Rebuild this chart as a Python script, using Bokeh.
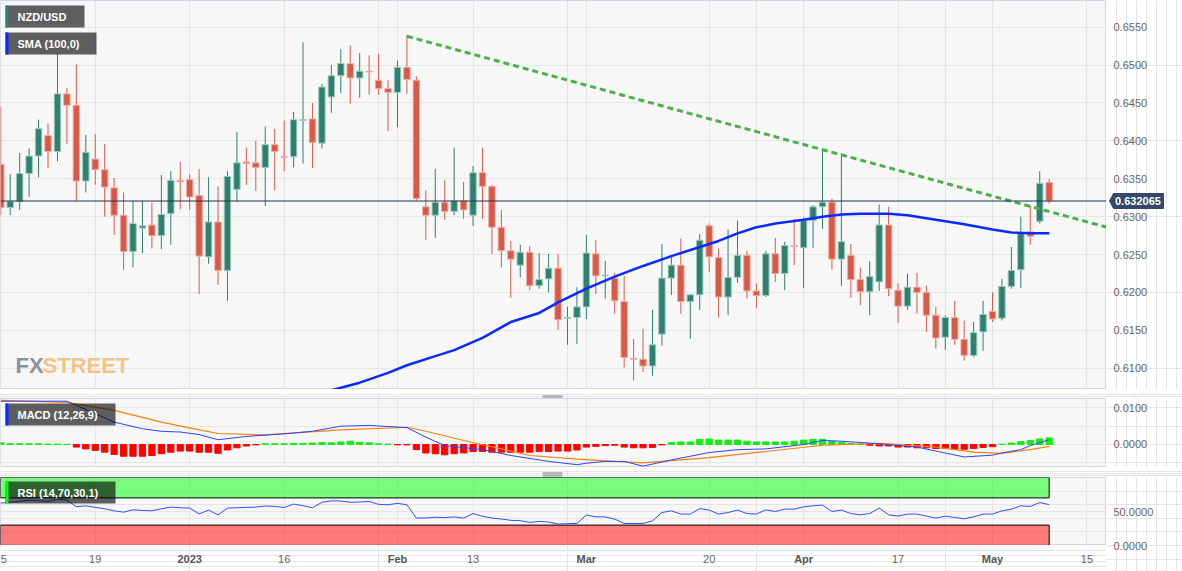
from bokeh.plotting import figure
from bokeh.layouts import column, row
from bokeh.models import (Range1d, FixedTicker, Grid, Span, ColumnDataSource,
                          GlobalInlineStyleSheet)
from bokeh.core.properties import value
from bokeh.embed import file_html
from bokeh.resources import INLINE

# ---------------- data (trading-day index 0 = 5 Dec 2022) ----------------
opens = [0.6369, 0.6312, 0.6320, 0.6357, 0.6380, 0.6407, 0.6386, 0.6462, 0.6447, 0.6347,
         0.6376, 0.6362, 0.6338, 0.6302, 0.6254, 0.6285, 0.6289, 0.6275, 0.6304, 0.6348,
         0.6349, 0.6328, 0.6247, 0.6293, 0.6229, 0.6336, 0.6372, 0.6371, 0.6365, 0.6395,
         0.6379, 0.6379, 0.6427, 0.6429, 0.6397, 0.6458, 0.6486, 0.6502, 0.6483, 0.6492,
         0.6480, 0.6469, 0.6464, 0.6497, 0.6480, 0.6313, 0.6302, 0.6319, 0.6307, 0.6321,
         0.6302, 0.6358, 0.6340, 0.6286, 0.6255, 0.6236, 0.6253, 0.6209, 0.6218, 0.6232,
         0.6166, 0.6167, 0.6181, 0.6251, 0.6222, 0.6219, 0.6188, 0.6113, 0.6112, 0.6103,
         0.6145, 0.6219, 0.6236, 0.6188, 0.6197, 0.6288, 0.6246, 0.6194, 0.6220, 0.6249,
         0.6202, 0.6196, 0.6251, 0.6225, 0.6262, 0.6259, 0.6295, 0.6313, 0.6319, 0.6244,
         0.6249, 0.6217, 0.6201, 0.6214, 0.6289, 0.6203, 0.6182, 0.6207, 0.6200, 0.6170,
         0.6141, 0.6167, 0.6138, 0.6117, 0.6148, 0.6175, 0.6166, 0.6208, 0.6230, 0.6280,
         0.6294, 0.6345]
highs = [0.6445, 0.6356, 0.6384, 0.6390, 0.6428, 0.6423, 0.6515, 0.6470, 0.6501, 0.6408,
         0.6409, 0.6396, 0.6351, 0.6332, 0.6321, 0.6321, 0.6318, 0.6355, 0.6360, 0.6372,
         0.6356, 0.6363, 0.6352, 0.6340, 0.6360, 0.6412, 0.6391, 0.6400, 0.6419, 0.6416,
         0.6427, 0.6438, 0.6530, 0.6450, 0.6475, 0.6500, 0.6521, 0.6526, 0.6516, 0.6513,
         0.6515, 0.6480, 0.6506, 0.6539, 0.6485, 0.6335, 0.6363, 0.6348, 0.6391, 0.6346,
         0.6367, 0.6391, 0.6342, 0.6309, 0.6268, 0.6263, 0.6261, 0.6252, 0.6251, 0.6251,
         0.6181, 0.6207, 0.6276, 0.6269, 0.6242, 0.6226, 0.6222, 0.6139, 0.6152, 0.6177,
         0.6264, 0.6247, 0.6271, 0.6198, 0.6277, 0.6291, 0.6258, 0.6283, 0.6295, 0.6255,
         0.6212, 0.6255, 0.6272, 0.6267, 0.6297, 0.6299, 0.6315, 0.6387, 0.6324, 0.6384,
         0.6264, 0.6233, 0.6241, 0.6316, 0.6313, 0.6212, 0.6225, 0.6226, 0.6209, 0.6181,
         0.6170, 0.6189, 0.6163, 0.6161, 0.6189, 0.6200, 0.6218, 0.6260, 0.6300, 0.6315,
         0.6360, 0.6350]
lows = [0.6302, 0.6302, 0.6309, 0.6326, 0.6352, 0.6364, 0.6373, 0.6396, 0.6321, 0.6332,
        0.6342, 0.6300, 0.6276, 0.6230, 0.6233, 0.6252, 0.6258, 0.6257, 0.6263, 0.6310,
        0.6309, 0.6198, 0.6238, 0.6210, 0.6189, 0.6320, 0.6342, 0.6334, 0.6314, 0.6335,
        0.6360, 0.6365, 0.6370, 0.6364, 0.6390, 0.6437, 0.6463, 0.6449, 0.6457, 0.6461,
        0.6461, 0.6413, 0.6418, 0.6462, 0.6321, 0.6269, 0.6272, 0.6296, 0.6302, 0.6297,
        0.6288, 0.6297, 0.6251, 0.6233, 0.6193, 0.6220, 0.6203, 0.6205, 0.6200, 0.6151,
        0.6131, 0.6132, 0.6165, 0.6198, 0.6192, 0.6172, 0.6101, 0.6084, 0.6095, 0.6090,
        0.6130, 0.6197, 0.6172, 0.6139, 0.6177, 0.6227, 0.6167, 0.6170, 0.6213, 0.6192,
        0.6180, 0.6194, 0.6214, 0.6203, 0.6236, 0.6206, 0.6259, 0.6284, 0.6230, 0.6209,
        0.6193, 0.6183, 0.6170, 0.6202, 0.6195, 0.6160, 0.6177, 0.6172, 0.6148, 0.6126,
        0.6124, 0.6131, 0.6110, 0.6115, 0.6123, 0.6161, 0.6163, 0.6205, 0.6206, 0.6263,
        0.6291, 0.6317]
closes = [0.6312, 0.6320, 0.6357, 0.6380, 0.6416, 0.6386, 0.6462, 0.6447, 0.6347, 0.6385,
          0.6362, 0.6339, 0.6302, 0.6254, 0.6291, 0.6288, 0.6275, 0.6303, 0.6348, 0.6346,
          0.6326, 0.6248, 0.6293, 0.6229, 0.6353, 0.6371, 0.6370, 0.6365, 0.6395, 0.6386,
          0.6378, 0.6428, 0.6428, 0.6398, 0.6471, 0.6486, 0.6502, 0.6483, 0.6492, 0.6491,
          0.6469, 0.6464, 0.6497, 0.6481, 0.6324, 0.6302, 0.6319, 0.6307, 0.6321, 0.6309,
          0.6358, 0.6340, 0.6286, 0.6255, 0.6244, 0.6253, 0.6209, 0.6217, 0.6232, 0.6164,
          0.6167, 0.6181, 0.6252, 0.6222, 0.6223, 0.6189, 0.6114, 0.6112, 0.6103, 0.6131,
          0.6219, 0.6236, 0.6188, 0.6197, 0.6269, 0.6247, 0.6194, 0.6220, 0.6249, 0.6202,
          0.6196, 0.6251, 0.6225, 0.6262, 0.6261, 0.6295, 0.6313, 0.6319, 0.6244, 0.6267,
          0.6217, 0.6201, 0.6221, 0.6289, 0.6205, 0.6182, 0.6207, 0.6200, 0.6170, 0.6140,
          0.6167, 0.6138, 0.6117, 0.6147, 0.6171, 0.6165, 0.6208, 0.6229, 0.6278, 0.6274,
          0.6344, 0.632065]

sma_idx = [35, 38, 41, 43, 46, 48, 51, 54, 57, 59, 62, 65, 68, 71, 74, 76, 78, 80, 82, 85,
           87, 89, 91, 94, 96, 98, 100, 102, 105, 107, 109, 111]
sma_val = [0.6071, 0.6081, 0.6094, 0.6104, 0.6116, 0.6124, 0.6140, 0.6161, 0.6173, 0.6187,
           0.6205, 0.6221, 0.6235, 0.6248, 0.6260, 0.6268, 0.6278, 0.6286, 0.6291, 0.6296,
           0.6300, 0.6303, 0.6304, 0.6304, 0.6302, 0.6298, 0.6294, 0.6290, 0.6283, 0.6279,
           0.6278, 0.6278]

trend_idx = [43, 118]
trend_val = [0.6538, 0.6283]

macd_idx = [0, 7, 10, 12, 15, 17, 19, 21, 23, 26, 30, 33, 36, 39, 43, 45, 47, 51, 54, 58,
            61, 62, 64, 66, 68, 71, 75, 78, 81, 85, 87, 89, 93, 97, 102, 105, 106, 108, 109, 111]
macd_val = [0.0118, 0.0118, 0.0084, 0.0061, 0.0043, 0.0036, 0.0034, 0.0027, 0.0013, 0.0022,
            0.0029, 0.0036, 0.0050, 0.0052, 0.0046, 0.0020, -0.0003, -0.0014, -0.0030, -0.0046,
            -0.0055, -0.0051, -0.0046, -0.0046, -0.0059, -0.0042, -0.0022, -0.0014, -0.0012, 0.0000,
            0.0011, 0.0009, 0.0002, -0.0007, -0.0034, -0.0029, -0.0023, -0.0014, -0.0003, 0.0013]
signal_idx = [0, 7, 12, 17, 21, 23, 28, 36, 43, 45, 49, 53, 56, 61, 65, 68, 75, 81, 87, 93,
              99, 103, 106, 109, 111]
signal_val = [0.0120, 0.0115, 0.0093, 0.0061, 0.0040, 0.0030, 0.0026, 0.0040, 0.0047, 0.0036,
              0.0011, -0.0012, -0.0030, -0.0040, -0.0046, -0.0050, -0.0036, -0.0019, -0.0002, 0.0003,
              -0.0007, -0.0021, -0.0024, -0.0014, -0.0005]
hist_val = [0.0005, 0.0002, 0.0002, 0.0002, 0.0002, 0.0001, 0.0001, 0.00005, -0.0007, -0.0012,
            -0.0016, -0.0021, -0.0027, -0.0032, -0.0032, -0.0032, -0.0030, -0.0025, -0.0021, -0.0018,
            -0.0018, -0.0021, -0.0021, -0.0024, -0.0015, -0.0009, -0.0004, -0.0001, 0.0002, 0.0002,
            0.0002, 0.0003, 0.0003, 0.0004, 0.0005, 0.00045, 0.0007, 0.0009, 0.0006, 0.00045,
            0.0002, 0.0001, -0.0001, -0.0001, -0.0014, -0.0023, -0.0025, -0.0028, -0.0025, -0.0023,
            -0.0019, -0.0019, -0.0021, -0.0021, -0.0021, -0.0021, -0.0021, -0.0019, -0.0019, -0.0018,
            -0.0018, -0.0015, -0.0007, -0.0005, -0.0003, -0.0002, -0.0007, -0.0009, -0.0009, -0.0008,
            -0.0001, 0.0005, 0.0007, 0.0007, 0.0014, 0.0015, 0.0012, 0.0012, 0.0012, 0.0009,
            0.0007, 0.0007, 0.0007, 0.0007, 0.0009, 0.0012, 0.0014, 0.0014, 0.0009, 0.0006,
            0.0003, 0.0001, -0.0002, -0.0004, -0.0004, -0.0007, -0.0007, -0.0009, -0.0009, -0.0011,
            -0.0011, -0.0013, -0.0013, -0.0011, -0.0008, -0.0006, 0.0001, 0.0004, 0.0008, 0.0011,
            0.0015, 0.0018]
rsi_val = [62.4, 63.5, 65.0, 66.5, 65.7, 64.7, 68.2, 66.8, 57.0, 58.4,
           56.0, 54.0, 51.0, 49.0, 52.5, 51.5, 51.0, 54.0, 56.5, 55.5,
           55.0, 46.5, 52.0, 45.1, 55.0, 55.5, 56.0, 56.5, 58.0, 57.5,
           55.9, 60.9, 58.5, 55.5, 63.5, 65.7, 65.5, 63.5, 64.0, 64.7,
           60.5, 59.9, 62.0, 59.9, 40.3, 40.5, 41.5, 41.0, 42.0, 40.3,
           47.0, 43.0, 40.3, 39.0, 37.0, 36.5, 34.0, 35.5, 34.5, 31.5,
           32.0, 32.4, 45.0, 42.2, 42.0, 38.8, 32.4, 32.4, 32.4, 36.3,
           48.5, 51.0, 46.2, 46.2, 54.4, 52.0, 46.2, 48.5, 52.0, 47.0,
           46.2, 52.5, 50.0, 53.5, 53.5, 56.9, 58.4, 59.4, 50.0, 52.0,
           47.0, 45.1, 47.0, 55.0, 45.1, 43.2, 46.2, 46.2, 43.2, 40.3,
           43.2, 41.2, 39.3, 42.2, 46.2, 46.2, 51.0, 53.5, 58.4, 57.4,
           63.2, 60.0]

tick_idx = [0, 10, 20, 30, 42, 50, 62, 75, 85, 95, 105, 115]
tick_labels = ["5", "19", "2023", "16", "Feb", "13", "Mar", "20", "Apr", "17", "May", "15"]
tick_bold = [False, False, True, False, True, False, True, False, True, False, True, False]

price_ticks = [0.6100, 0.6150, 0.6200, 0.6250, 0.6300, 0.6350, 0.6400, 0.6450, 0.6500, 0.6550]
macd_ticks = [0.0, 0.01]
rsi_ticks = [0, 50]

# ---------------- layout geometry ----------------
PXD = 9.445          # pixels per trading day
X0 = -0.03
FW = 1106            # plotting frame width
RW = 76              # right label column width
TOTAL_W = FW + RW
XE = X0 + FW / PXD
XL_H = 26            # height of the date label strip

def px_x(px):
    return X0 + px / PXD

MAIN_TOP, MAIN_PPU, MAIN_H = 0.65852, 7580.0, 389
MACD_TOP, MACD_PPU, MACD_H = 0.012534, 3670.0, 69
RSI_H = 68

def main_y(py):
    return MAIN_TOP - py / MAIN_PPU

def macd_y(py):
    return MACD_TOP - py / MACD_PPU

def rsi_y(py):
    return 100.0 - py * 100.0 / RSI_H

x_range = Range1d(X0, XE)
GRID = "#e6e6e6"
FONT = "Liberation Sans"
LABEL_COL = "#666666"


def bare_fig(fw, fh, xr, yr, bg="white", outline=None):
    f = figure(frame_width=fw, frame_height=fh, x_range=xr, y_range=yr,
               output_backend="svg", toolbar_location=None, tools="",
               x_axis_location=None, y_axis_location=None,
               min_border_left=0, min_border_right=0, min_border_top=0, min_border_bottom=0,
               background_fill_color=bg, border_fill_color="white",
               outline_line_color=outline, title=None)
    return f


def panel(frame_h, yr, ticks):
    f = bare_fig(FW, frame_h, x_range, yr, bg="#f7f7f7", outline="#cfd5e4")
    f.add_layout(Grid(dimension=0, ticker=FixedTicker(ticks=tick_idx), grid_line_color=GRID))
    f.add_layout(Grid(dimension=1, ticker=FixedTicker(ticks=ticks), grid_line_color=GRID))
    return f


def labels_col(frame_h, yr, ticks, fmt):
    f = bare_fig(RW, frame_h, Range1d(0, RW), yr)
    f.text(x=[7] * len(ticks), y=ticks, text=[fmt % t for t in ticks],
           text_font=value(FONT), text_font_size="11px", text_color=LABEL_COL,
           text_align="left", text_baseline="middle")
    return f


def legend_box(f, yfun, left, right, top, bot, stripe, text):
    f.quad(left=[px_x(left)], right=[px_x(right)], top=[yfun(top)], bottom=[yfun(bot)],
           fill_color="black", fill_alpha=0.62, line_color=None)
    f.quad(left=[px_x(left)], right=[px_x(left + 3)], top=[yfun(top)], bottom=[yfun(bot)],
           fill_color=stripe, line_color=None)
    f.text(x=[px_x(left + 12)], y=[yfun((top + bot) / 2.0)], text=[text],
           text_font=value(FONT), text_font_size="11px", text_font_style="bold",
           text_color="white", text_baseline="middle", text_align="left")


def spacer(h, grip_top):
    f = bare_fig(TOTAL_W, h, Range1d(X0, X0 + TOTAL_W / PXD), Range1d(h, 0))
    for k in range(3):
        yy = grip_top + 2 * k
        f.segment(x0=[px_x(542)], x1=[px_x(562)], y0=[yy], y1=[yy], line_color="#7a7a7a",
                  line_width=1)
    return f


# ---------------- main price panel ----------------
main_yr = Range1d(main_y(MAIN_H), MAIN_TOP)
main = panel(MAIN_H, main_yr, price_ticks)

GREEN, GREEN_L = "#2f806e", "#9ccbbd"
RED, RED_L = "#d75a49", "#f2aaa0"
idx = list(range(len(closes)))
up = [c >= o for o, c in zip(opens, closes)]
src = ColumnDataSource(dict(
    x=idx, h=highs, l=lows,
    top=[max(o, c) for o, c in zip(opens, closes)],
    bottom=[min(o, c) for o, c in zip(opens, closes)],
    col=[GREEN if u else RED for u in up],
    lcol=[GREEN_L if u else RED_L for u in up]))

# watermark
main.text(x=[px_x(15)], y=[main_y(365)], text=["FX"], text_font=value(FONT),
          text_font_size="22px", text_font_style="bold", text_color="#8f9099",
          text_baseline="alphabetic", text_align="left")
main.text(x=[px_x(42)], y=[main_y(365)], text=["STREET"], text_font=value(FONT),
          text_font_size="22px", text_font_style="bold", text_color="#f1c489",
          text_baseline="alphabetic", text_align="left")

main.segment(x0="x", y0="h", x1="x", y1="l", line_color="col", line_width=1, source=src)
main.vbar(x="x", width=0.68, top="top", bottom="bottom", fill_color="col",
          line_color="lcol", line_width=1, source=src)

main.line(sma_idx, sma_val, line_color="#0a2bff", line_width=2.5)
main.line(trend_idx, trend_val, line_color="#4cb04a", line_width=3, line_dash="6 4")
main.add_layout(Span(location=closes[-1], dimension="width", line_color="#1f3050", line_width=1))

legend_box(main, main_y, 5, 84, 5, 27, "#2f806e", "NZD/USD")
legend_box(main, main_y, 5, 96, 32, 54, "#0a2bff", "SMA (100,0)")

main_r = labels_col(MAIN_H, main_yr, price_ticks, "%.4f")
half = 7.5 / MAIN_PPU
last_px = closes[-1]
main_r.patch(x=[3, 7, 57, 57, 7],
             y=[last_px, last_px + half, last_px + half, last_px - half, last_px - half],
             fill_color="#34496a", line_color="#34496a", line_width=1)
main_r.text(x=[8.5], y=[last_px], text=["%.6f" % last_px], text_font=value(FONT),
            text_font_size="11px", text_font_style="bold", text_color="white",
            text_align="left", text_baseline="middle")

# ---------------- MACD panel ----------------
macd_yr = Range1d(macd_y(MACD_H), MACD_TOP)
macd = panel(MACD_H, macd_yr, macd_ticks)
hcol = ["#11ee11" if v >= 0 else "#ff0000" for v in hist_val]
hsrc = ColumnDataSource(dict(x=idx, top=hist_val, col=hcol))
macd.vbar(x="x", width=0.66, top="top", bottom=0, fill_color="col", line_color="col",
          line_width=1, source=hsrc)
macd.line(signal_idx, signal_val, line_color="#ff7f0e", line_width=1.2)
macd.line(macd_idx, macd_val, line_color="#2a45ff", line_width=1)
legend_box(macd, macd_y, 5, 115, 5, 27, "#0a2bff", "MACD (12,26,9)")
macd_r = labels_col(MACD_H, macd_yr, macd_ticks, "%.4f")

# ---------------- RSI panel ----------------
rsi = panel(RSI_H, Range1d(0, 100), rsi_ticks)
last = idx[-1]
rsi.quad(left=[X0], right=[last], top=[100], bottom=[70], fill_color="#00ff00", fill_alpha=0.5,
         line_color="black", line_width=1)
rsi.quad(left=[X0], right=[last], top=[30], bottom=[0], fill_color="#ff0000", fill_alpha=0.5,
         line_color="black", line_width=1)
rsi.line(idx, rsi_val, line_color="#3050ff", line_width=1)
legend_box(rsi, rsi_y, 5, 115, 4, 26, "#00ff00", "RSI (14,70,30,1)")
# label column spans the RSI panel plus the date strip, so the bottom label is not cut
rsi_r = labels_col(RSI_H + XL_H, Range1d(-XL_H * 100.0 / RSI_H, 100), rsi_ticks, "%.4f")

# ---------------- x labels strip ----------------
xl = bare_fig(FW, XL_H, x_range, Range1d(0, 1))
first = [tick_idx[0]]
nx = [t for t, b in list(zip(tick_idx, tick_bold))[1:] if not b]
nl = [s for s, b in list(zip(tick_labels, tick_bold))[1:] if not b]
bx = [t for t, b in zip(tick_idx, tick_bold) if b]
bl = [s for s, b in zip(tick_labels, tick_bold) if b]
xl.text(x=first, y=[0.5], text=[tick_labels[0]], text_font=value(FONT), text_font_size="11px",
        text_color=LABEL_COL, text_align="left", text_baseline="middle")
xl.text(x=nx, y=[0.5] * len(nx), text=nl, text_font=value(FONT), text_font_size="11px",
        text_color=LABEL_COL, text_align="center", text_baseline="middle")
xl.text(x=bx, y=[0.5] * len(bx), text=bl, text_font=value(FONT), text_font_size="11px",
        text_font_style="bold", text_color="#555555", text_align="center", text_baseline="middle")

layout = column(row(main, main_r, spacing=0),
                spacer(9, 3.5),
                row(macd, macd_r, spacing=0),
                spacer(10, 3.5),
                row(column(rsi, xl, spacing=0), rsi_r, spacing=0),
                spacing=0,
                stylesheets=[GlobalInlineStyleSheet(css="html, body { margin: 0; padding: 0; }")])

open("out.html", "w").write(file_html(layout, INLINE))
